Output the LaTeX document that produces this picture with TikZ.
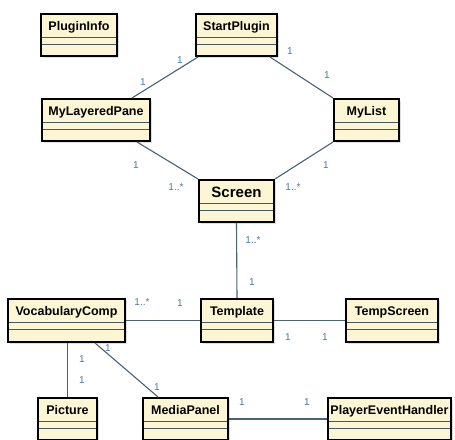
\documentclass[tikz,border=0pt]{standalone}
\usepackage{fontspec}
\setmainfont{Liberation Sans}
\usetikzlibrary{calc,shadows}
\definecolor{cream}{RGB}{252,246,212}
\definecolor{conncol}{RGB}{72,100,112}
\definecolor{lblcol}{RGB}{70,120,180}
\definecolor{sepcol}{RGB}{70,90,100}
\tikzset{
  cls/.style={draw=black, line width=2pt, fill=cream, anchor=north west, inner sep=0pt,
    minimum height=42pt, text height=10pt, text depth=20pt,
    font=\bfseries\fontsize{12.5}{14}\selectfont,
    drop shadow={shadow xshift=2pt, shadow yshift=-2pt, opacity=0.25, fill=gray},
    path picture={
      \draw[sepcol, line width=0.8pt] ([yshift=-23.5pt]path picture bounding box.north west) -- ([yshift=-23.5pt]path picture bounding box.north east);
      \draw[sepcol, line width=0.8pt] ([yshift=-30.5pt]path picture bounding box.north west) -- ([yshift=-30.5pt]path picture bounding box.north east);
    }},
  assoc/.style={draw=conncol, line width=1.1pt},
  mult/.style={text=lblcol, font=\fontsize{10}{12}\selectfont, inner sep=0pt}
}
\begin{document}
\begin{tikzpicture}[x=1pt, y=-1pt]
\useasboundingbox[fill=white] (0,0) rectangle (455,439);
% classes
\node[cls, minimum width=76pt] (pi) at (40,13) {PluginInfo};
\node[cls, minimum width=81pt] (sp) at (195,13) {StartPlugin};
\node[cls, minimum width=108pt] (mlp) at (41,98) {MyLayeredPane};
\node[cls, minimum width=65pt] (ml) at (333,98) {MyList};
\node[cls, minimum width=75pt, text height=11pt, text depth=19pt, font=\bfseries\fontsize{15}{17}\selectfont] (scr) at (198,179) {Screen};
\node[cls, minimum width=72pt, minimum height=43pt] (tpl) at (200,298) {Template};
\node[cls, minimum width=92pt, minimum height=43pt] (tsc) at (345,298) {TempScreen};
\node[cls, minimum width=117pt, minimum height=43pt] (voc) at (7,298) {VocabularyComp};
\node[cls, minimum width=59pt] (pic) at (37,397) {Picture};
\node[cls, minimum width=85pt] (mp) at (142,397) {MediaPanel};
\node[cls, minimum width=123pt] (peh) at (327,397) {PlayerEventHandler};
% associations
\draw[assoc] ([xshift=3pt]sp.south west) -- ([xshift=-19pt]mlp.north east);
\draw[assoc] ([xshift=-8pt]sp.south east) -- (ml.north west);
\draw[assoc] ([xshift=-14pt]mlp.south east) -- (scr.north west);
\draw[assoc] (ml.south west) -- (scr.north east);
\draw[assoc] (scr.south) -- (tpl.north);
\draw[assoc] (voc.east) -- (tpl.west);
\draw[assoc] (tpl.east) -- (tsc.west);
\draw[assoc] (pic.north |- voc.south) -- (pic.north);
\draw[assoc] ([xshift=-31pt]voc.south east) -- ([xshift=16pt]mp.north west);
\draw[assoc] (mp.east) -- (peh.west);
% multiplicities
\node[mult] (m1) at (180,60) {1};
\node[mult] (m2) at (143,82) {1};
\node[mult] (m3) at (290,51) {1};
\node[mult] (m4) at (327,75) {1};
\node[mult] (m5) at (136,165) {1};
\node[mult] (m6) at (176,187) {1..*};
\node[mult] (m7) at (326,165) {1};
\node[mult] (m8) at (293,187) {1..*};
\node[mult] (m9) at (253,240) {1..*};
\node[mult] (m10) at (252,282) {1};
\node[mult] (m11) at (142,302) {1..*};
\node[mult] (m12) at (180,303) {1};
\node[mult] (m13) at (288,337) {1};
\node[mult] (m14) at (325,337) {1};
\node[mult] (m15) at (82,359) {1};
\node[mult] (m16) at (82,380) {1};
\node[mult] (m17) at (108,348) {1};
\node[mult] (m18) at (157,387) {1};
\node[mult] (m19) at (242,402) {1};
\node[mult] (m20) at (307,402) {1};
\end{tikzpicture}
\end{document}
